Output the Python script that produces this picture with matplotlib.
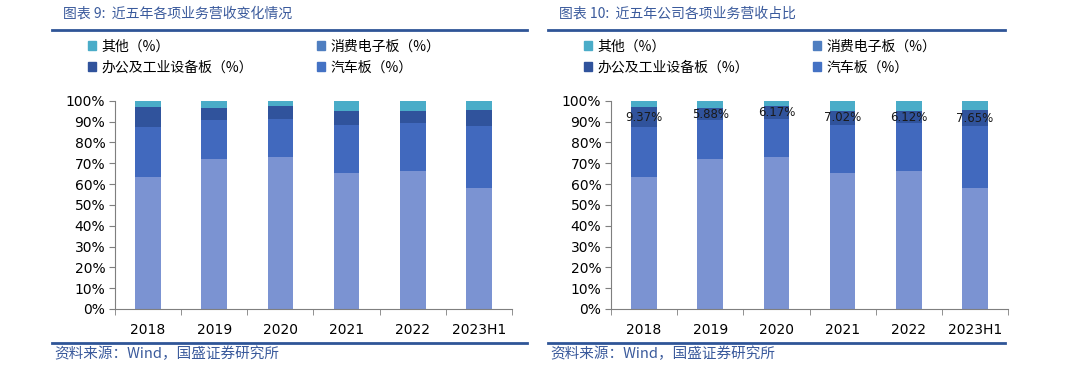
import numpy as np
import matplotlib
matplotlib.use("Agg")
import matplotlib.pyplot as plt
from matplotlib.patches import Patch
from matplotlib.lines import Line2D

plt.rcParams['font.family'] = ['Noto Sans CJK SC', 'DejaVu Sans']

# data (share of revenue, %)
years = ["2018", "2019", "2020", "2021", "2022", "2023H1"]
consumer = [63.5, 72.0, 73.2, 65.1, 66.4, 58.3]      # 消费电子板
auto = [23.9, 18.6, 17.9, 23.1, 22.7, 29.5]          # 汽车板
office = [9.37, 5.88, 6.17, 7.02, 6.12, 7.65]        # 办公及工业设备板
other = [3.23, 3.52, 2.73, 4.78, 4.78, 4.55]         # 其他
office_labels = ["9.37%", "5.88%", "6.17%", "7.02%", "6.12%", "7.65%"]

c_consumer = "#7b93d2"
c_auto = "#4169be"
c_office = "#30539c"
c_other = "#4aacc8"
blue_text = "#3a5a9c"

W, H = 1080, 376
fig = plt.figure(figsize=(W / 100, H / 100), dpi=100)


def px(x, y):
    return x / W, 1 - y / H


def draw_panel(left_px, line_x0, line_x1, title, with_labels):
    l, b = px(left_px, 309)
    ax = fig.add_axes([l, b, 397 / W, 208.3 / H])
    x = np.arange(len(years))
    c = np.array(consumer) / 100
    a = np.array(auto) / 100
    o = np.array(office) / 100
    t = np.array(other) / 100
    w = 0.39
    ax.bar(x, c, w, color=c_consumer)
    ax.bar(x, a, w, bottom=c, color=c_auto)
    ax.bar(x, o, w, bottom=c + a, color=c_office)
    ax.bar(x, t, w, bottom=c + a + o, color=c_other)
    if with_labels:
        for i in range(len(years)):
            ax.text(x[i], c[i] + a[i] + o[i] / 2, office_labels[i], ha="center",
                    va="center", fontsize=8.5, color="#1a1a1a", family="DejaVu Sans")

    ax.set_xlim(-0.5, len(years) - 0.5)
    ax.set_ylim(0, 1)
    ax.set_yticks(np.arange(0, 1.01, 0.1))
    ax.set_yticklabels([f"{int(round(v * 100))}%" for v in np.arange(0, 1.01, 0.1)],
                       family="DejaVu Sans", fontsize=10)
    ax.set_xticks(x)
    ax.set_xticklabels(years, family="DejaVu Sans", fontsize=10)
    ax.set_xticks(np.arange(-0.5, len(years), 1), minor=True)
    ax.tick_params(axis="x", which="major", length=0, pad=10)
    ax.tick_params(axis="x", which="minor", length=4, color="#7f7f7f", direction="out")
    ax.tick_params(axis="y", length=4, color="#7f7f7f", pad=3)
    for s in ["top", "right"]:
        ax.spines[s].set_visible(False)
    for s in ["left", "bottom"]:
        ax.spines[s].set_color("#7f7f7f")

    # title, rules and source
    tx, ty = px(line_x0 + 11, 14)
    fig.text(tx, ty, title, fontsize=10, style="italic", color=blue_text, va="center")
    for yy in [30, 343]:
        x0, y0 = px(line_x0, yy)
        x1, _ = px(line_x1, yy)
        fig.add_artist(Line2D([x0, x1], [y0, y0], color="#2f5597", lw=2))
    sx, sy = px(line_x0 + 2, 354)
    fig.text(sx, sy, "资料来源：Wind，国盛证券研究所", fontsize=10.5, style="italic",
             color=blue_text, va="center")

    handles = [Patch(color=c_other, label="其他（%）"),
               Patch(color=c_office, label="办公及工业设备板（%）"),
               Patch(color="#4f7ec0", label="消费电子板（%）"),
               Patch(color="#4472c4", label="汽车板（%）")]
    lx, ly = px(left_px - 40, 57)
    fig.legend(handles=handles, ncol=2, loc="center left", bbox_to_anchor=(lx, ly),
               frameon=False, fontsize=10, handlelength=0.6, handleheight=0.6,
               handletextpad=0.4, columnspacing=4.6, labelspacing=0.5)
    return ax


draw_panel(115, 52, 527, "图表 9:  近五年各项业务营收变化情况", False)
draw_panel(611, 548, 1005, "图表 10:  近五年公司各项业务营收占比", True)

fig.savefig("out.png", dpi=100)
